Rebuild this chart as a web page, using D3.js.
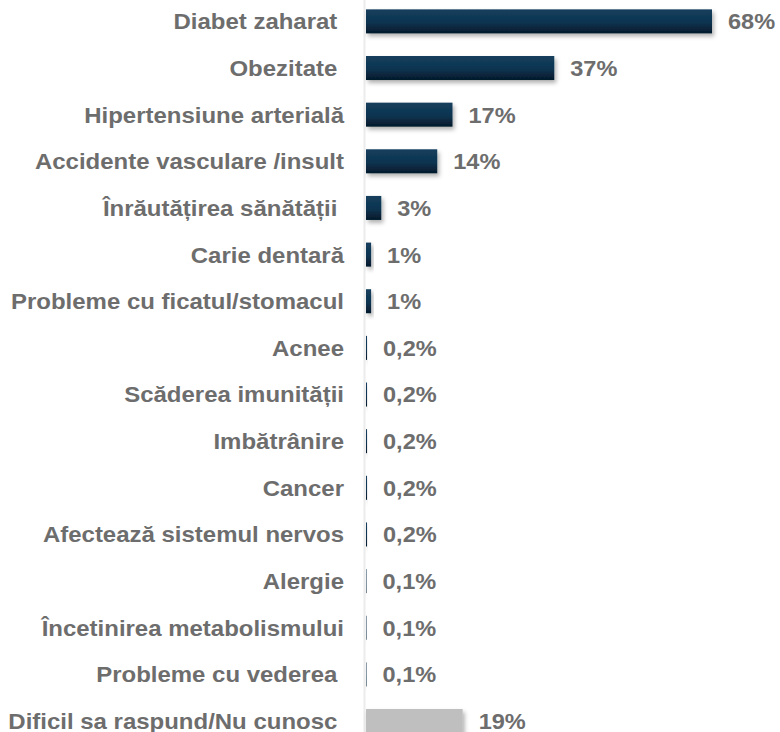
<!DOCTYPE html>
<meta charset="utf-8">
<style>
    body { margin: 0; background: #fff; }
    .cat { font: bold 22px "Liberation Sans", Arial, sans-serif; fill: #6d6d6d; white-space: pre; }
    .val { font: bold 22px "Liberation Sans", Arial, sans-serif; fill: #6d6d6d; }
</style>
<body>
<script src="https://d3js.org/d3.v7.min.js"></script>
<script>
// categories, top to bottom
var categories = [
    "Diabet zaharat ",
    "Obezitate ",
    "Hipertensiune arterială",
    "Accidente vasculare /insult",
    "Înrăutățirea sănătății ",
    "Carie dentară",
    "Probleme cu ficatul/stomacul",
    "Acnee",
    "Scăderea imunității",
    "Imbătrânire",
    "Cancer",
    "Afectează sistemul nervos",
    "Alergie",
    "Încetinirea metabolismului",
    "Probleme cu vederea ",
    "Dificil sa raspund/Nu cunosc "
];
// percent of respondents
var values = [68, 37, 17, 14, 3, 1, 1, 0.2, 0.2, 0.2, 0.2, 0.2, 0.1, 0.1, 0.1, 19];
// the last row is drawn in grey
var greyRows = ["Dificil sa raspund/Nu cunosc "];

var width = 780, height = 732;
var x0 = 366;

var data = categories.map(function(c, i) { return { cat: c, value: values[i] }; });

var svg = d3.select("body").append("svg")
    .attr("width", width)
    .attr("height", height);

var defs = svg.append("defs");
var grad = defs.append("linearGradient")
    .attr("id", "barGrad")
    .attr("x1", 0).attr("y1", 0).attr("x2", 0).attr("y2", 1);
grad.append("stop").attr("offset", "0%").attr("stop-color", "#143f5d");
grad.append("stop").attr("offset", "55%").attr("stop-color", "#0e3450");
grad.append("stop").attr("offset", "100%").attr("stop-color", "#04192a");

var shadow = defs.append("filter").attr("id", "shadow")
    .attr("x", "-20%").attr("y", "-20%").attr("width", "160%").attr("height", "180%");
shadow.append("feDropShadow")
    .attr("dx", 2).attr("dy", 3).attr("stdDeviation", 2)
    .attr("flood-color", "#000").attr("flood-opacity", 0.3);

// scales
var x = d3.scaleLinear().domain([0, 68]).range([x0, 712]);
var y = d3.scaleBand()
    .domain(categories)
    .range([-2.3, 744.7])
    .paddingInner(0.485)
    .paddingOuter(0.25);

// faint axis line
svg.append("line")
    .attr("x1", x0 - 1.5).attr("x2", x0 - 1.5)
    .attr("y1", 0).attr("y2", height)
    .style("stroke", "#ececec")
    .style("stroke-width", 2);

// bars
svg.selectAll(".bar")
    .data(data)
    .enter().append("rect")
    .attr("class", "bar")
    .attr("x", x(0))
    .attr("y", function(d) { return y(d.cat); })
    .attr("width", function(d) { return x(d.value) - x(0); })
    .attr("height", y.bandwidth())
    .attr("fill", function(d) { return greyRows.indexOf(d.cat) >= 0 ? "#bfbfbf" : "url(#barGrad)"; })
    .attr("filter", "url(#shadow)");

// category labels (font in the original is a bit wider than Liberation)
svg.selectAll(".cat")
    .data(data)
    .enter().append("text")
    .attr("class", "cat")
    .attr("transform", function(d) {
        return "translate(344," + (y(d.cat) + y.bandwidth() / 2) + ") scale(1.09,1)";
    })
    .attr("dy", "0.36em")
    .attr("text-anchor", "end")
    .text(function(d) { return d.cat; });

// value labels
var fmt = function(v) {
    return v < 1 ? d3.format(".1f")(v).replace(".", ",") + "%" : d3.format("d")(v) + "%";
};
svg.selectAll(".val")
    .data(data)
    .enter().append("text")
    .attr("class", "val")
    .attr("transform", function(d) {
        return "translate(" + (x(d.value) + 16) + "," + (y(d.cat) + y.bandwidth() / 2) + ") scale(1.07,1)";
    })
    .attr("dy", "0.36em")
    .text(function(d) { return fmt(d.value); });
</script>
</body>
